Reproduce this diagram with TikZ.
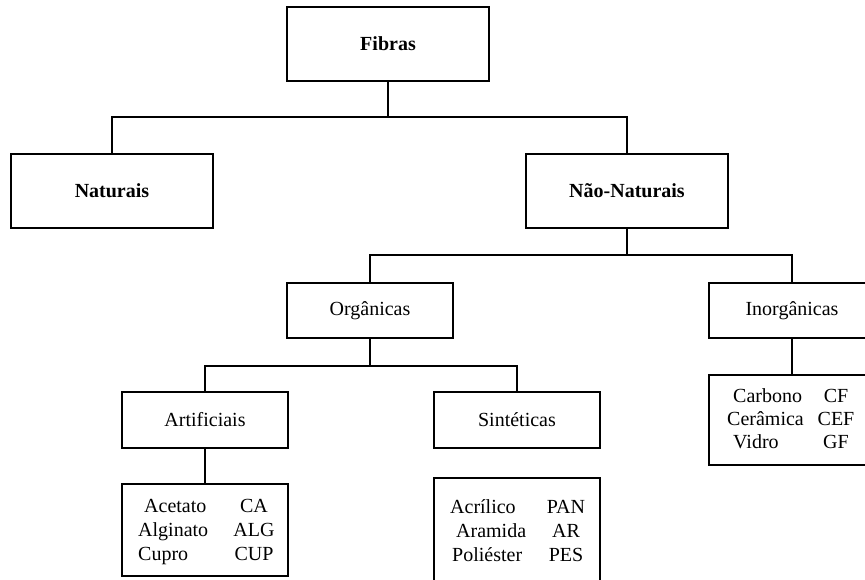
\documentclass[tikz,border=0pt]{standalone}
\usepackage{fontspec}
\setmainfont{Liberation Serif}
\begin{document}
\begin{tikzpicture}[x=1pt,y=-1pt,
  box/.style={draw=black,line width=1.7pt,rectangle,inner sep=0pt,font=\fontsize{20}{24}\selectfont},
  bbox/.style={box,font=\fontsize{20}{24}\selectfont\bfseries},
  conn/.style={draw=black,line width=1.7pt},
  itm/.style={inner sep=0pt,anchor=base west,font=\fontsize{20}{24}\selectfont},
  abb/.style={inner sep=0pt,anchor=base,font=\fontsize{20}{24}\selectfont}]
\useasboundingbox (0,0) rectangle (865,580);
\clip (0,0) rectangle (865,580);
% boxes
\node[bbox,line width=2.2pt,minimum width=202pt,minimum height=74pt] (fib) at (388,44) {Fibras};
\node[bbox,minimum width=202pt,minimum height=74pt] (nat) at (112,191) {Naturais};
\node[bbox,minimum width=202pt,minimum height=74pt] (nn) at (627,191) {Não-Naturais};
\node[box,minimum width=166pt,minimum height=55pt] (org) at (370,310.5) {Orgânicas};
\node[box,minimum width=166pt,minimum height=55pt] (inorg) at (792,310.5) {Inorgânicas};
\node[box,minimum width=166pt,minimum height=56pt] (art) at (205,420) {Artificiais};
\node[box,minimum width=166pt,minimum height=56pt] (sint) at (517,420) {Sintéticas};
\node[box,minimum width=166pt,minimum height=92pt] (artl) at (205,530) {};
\node[box,minimum width=166pt,minimum height=120pt] (sintl) at (517,538) {};
\node[box,minimum width=166pt,minimum height=90pt] (inorgl) at (792,420) {};
% connectors
\coordinate (j1) at (388,117);
\coordinate (j2) at (627,255);
\coordinate (j3) at (370,366);
\draw[conn] (fib.south) -- (j1);
\draw[conn] (nat.north) |- (j1) -| (nn.north);
\draw[conn] (nn.south) -- (j2);
\draw[conn] (org.north) |- (j2) -| (inorg.north);
\draw[conn] (org.south) -- (j3);
\draw[conn] (art.north) |- (j3) -| (sint.north);
\draw[conn] (art.south) -- (artl.north);
\draw[conn] (inorg.south) -- (inorgl.north);
% list texts
\node[itm] (a1) at (144,512) {Acetato};
\node[itm] (a2) at (138,536) {Alginato};
\node[itm] (a3) at (138,560) {Cupro};
\node[abb] (a1b) at (254,512) {CA};
\node[abb] (a2b) at (254,536) {ALG};
\node[abb] (a3b) at (254,560) {CUP};
\node[itm] (s1) at (450,513) {Acrílico};
\node[itm] (s2) at (456,537) {Aramida};
\node[itm] (s3) at (452,561) {Poliéster};
\node[abb] (s1b) at (566,513) {PAN};
\node[abb] (s2b) at (566,537) {AR};
\node[abb] (s3b) at (566,561) {PES};
\node[itm] (i1) at (733,402) {Carbono};
\node[itm] (i2) at (727,425) {Cerâmica};
\node[itm] (i3) at (733,448) {Vidro};
\node[abb] (i1b) at (836,402) {CF};
\node[abb] (i2b) at (836,425) {CEF};
\node[abb] (i3b) at (836,448) {GF};
\end{tikzpicture}
\end{document}
